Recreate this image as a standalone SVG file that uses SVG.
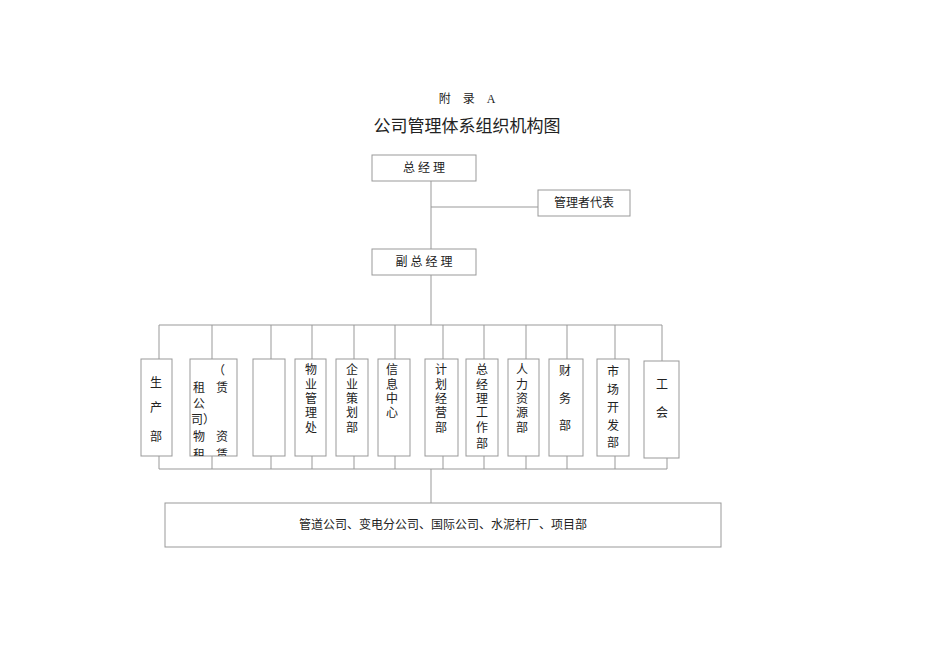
<svg xmlns="http://www.w3.org/2000/svg" width="950" height="672" viewBox="0 0 950 672">
<style>
.b{fill:#fff;stroke:#999;stroke-width:1}
.l{stroke:#999;stroke-width:1;fill:none}
text{font-family:"Liberation Serif","Noto Sans CJK SC",serif;font-size:12px;fill:#222;text-anchor:middle}
.v{dominant-baseline:central}
</style>
<defs><clipPath id="c2"><rect x="190" y="359" width="47" height="97"/></clipPath></defs>
<rect width="950" height="672" fill="#fff"/>
<text x="467" y="103" font-size="11">附　录　A</text>
<text x="467" y="132" style="font-size:17px;font-family:'Noto Sans CJK SC',sans-serif">公司管理体系组织机构图</text>
<g id="connectors">
<path class="l" d="M431 181V249M431 207H538M431 275V325M159 325H662M159 325V359M212 325V359M271 325V359M312 325V359M354 325V359M395 325V359M443 325V359M484 325V359M526 325V359M567 325V359M615 325V359M662 325V361"/>
<path class="l" d="M159 469H667M159 456V469M212 456V469M271 456V469M312 456V469M354 456V469M395 456V469M443 456V469M484 456V469M526 456V469M567 456V469M615 456V469M667 458V469M431 469V503"/>
</g>
<g id="n0"><rect class="b" x="372" y="155" width="104" height="26"/><text x="424" y="172">总 经 理</text></g>
<g id="n1"><rect class="b" x="538" y="190" width="92" height="26"/><text x="584" y="207">管理者代表</text></g>
<g id="n2"><rect class="b" x="372" y="249" width="104" height="26"/><text x="424" y="266">副 总 经 理</text></g>
<g id="d1"><rect class="b" x="141" y="359" width="31" height="97"/><text class="v" x="156" y="383">生</text><text class="v" x="156" y="408">产</text><text class="v" x="156" y="437">部</text></g>
<g id="d2"><rect class="b" x="190" y="359" width="47" height="97"/><g clip-path="url(#c2)"><text class="v" x="219" y="371">（</text><text class="v" x="199" y="388">租</text><text class="v" x="222" y="388">赁</text><text class="v" x="199" y="404">公</text><text class="v" x="203" y="420">司）</text><text class="v" x="199" y="437">物</text><text class="v" x="222" y="437">资</text><text class="v" x="199" y="455">租</text><text class="v" x="222" y="455">赁</text></g></g>
<g id="d3"><rect class="b" x="253" y="359" width="32" height="97"/></g>
<g id="d4"><rect class="b" x="295" y="359" width="31" height="97"/><text class="v" x="311" y="370">物</text><text class="v" x="311" y="385">业</text><text class="v" x="311" y="399">管</text><text class="v" x="311" y="413">理</text><text class="v" x="311" y="428">处</text></g>
<g id="d5"><rect class="b" x="336" y="359" width="32" height="97"/><text class="v" x="352" y="370">企</text><text class="v" x="352" y="385">业</text><text class="v" x="352" y="399">策</text><text class="v" x="352" y="413">划</text><text class="v" x="352" y="428">部</text></g>
<g id="d6"><rect class="b" x="378" y="359" width="32" height="97"/><text class="v" x="392" y="370">信</text><text class="v" x="392" y="385">息</text><text class="v" x="392" y="399">中</text><text class="v" x="392" y="413">心</text></g>
<g id="d7"><rect class="b" x="425" y="359" width="33" height="97"/><text class="v" x="441" y="370">计</text><text class="v" x="441" y="385">划</text><text class="v" x="441" y="399">经</text><text class="v" x="441" y="413">营</text><text class="v" x="441" y="428">部</text></g>
<g id="d8"><rect class="b" x="466" y="359" width="32" height="97"/><text class="v" x="482" y="370">总</text><text class="v" x="482" y="385">经</text><text class="v" x="482" y="399">理</text><text class="v" x="482" y="413">工</text><text class="v" x="482" y="428">作</text><text class="v" x="482" y="444">部</text></g>
<g id="d9"><rect class="b" x="508" y="359" width="31" height="97"/><text class="v" x="522" y="370">人</text><text class="v" x="522" y="385">力</text><text class="v" x="522" y="399">资</text><text class="v" x="522" y="413">源</text><text class="v" x="522" y="428">部</text></g>
<g id="d10"><rect class="b" x="549" y="359" width="34" height="97"/><text class="v" x="565" y="371">财</text><text class="v" x="565" y="399">务</text><text class="v" x="565" y="426">部</text></g>
<g id="d11"><rect class="b" x="597" y="359" width="32" height="97"/><text class="v" x="613" y="372">市</text><text class="v" x="613" y="390">场</text><text class="v" x="613" y="408">开</text><text class="v" x="613" y="426">发</text><text class="v" x="613" y="443">部</text></g>
<g id="d12"><rect class="b" x="644" y="361" width="35" height="97"/><text class="v" x="662" y="385">工</text><text class="v" x="662" y="413">会</text></g>
<g id="n3"><rect class="b" x="165" y="503" width="556" height="44"/><text x="443" y="529">管道公司、变电分公司、国际公司、水泥杆厂、项目部</text></g>
</svg>
